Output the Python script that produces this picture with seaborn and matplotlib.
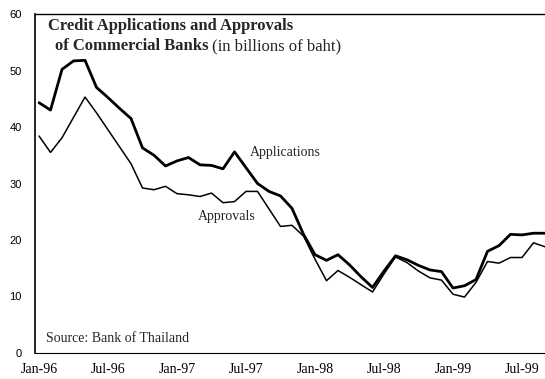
import matplotlib
matplotlib.use("Agg")
import matplotlib.pyplot as plt
import seaborn as sns
import pandas as pd

# Monthly series, Jan-1996 .. Sep-1999 (billions of baht)
months = pd.date_range("1996-01-01", "1999-09-01", freq="MS")
applications = [44.3, 43.0, 50.2, 51.7, 51.8, 47.0, 45.2, 43.3, 41.5, 36.3,
                35.0, 33.1, 34.0, 34.6, 33.3, 33.2, 32.6, 35.6, 32.8, 30.0,
                28.6, 27.8, 25.6, 21.0, 17.4, 16.4, 17.4, 15.6, 13.5, 11.6,
                14.5, 17.2, 16.5, 15.5, 14.7, 14.4, 11.5, 11.9, 13.0, 18.0,
                19.0, 21.0, 20.9, 21.2, 21.2]
approvals = [38.4, 35.5, 38.1, 41.7, 45.3, 42.5, 39.5, 36.5, 33.5, 29.2,
             28.9, 29.5, 28.2, 28.0, 27.7, 28.3, 26.6, 26.8, 28.6, 28.6,
             25.5, 22.4, 22.6, 20.7, 16.6, 12.8, 14.6, 13.4, 12.1, 10.8,
             14.0, 17.0, 16.0, 14.5, 13.3, 12.9, 10.4, 9.9, 12.5, 16.2,
             15.9, 16.9, 16.9, 19.5, 18.8]
tick_labels = ["Jan-96", "Jul-96", "Jan-97", "Jul-97", "Jan-98", "Jul-98",
               "Jan-99", "Jul-99"]
y_ticks = [0, 10, 20, 30, 40, 50, 60]

df = pd.DataFrame({"month": range(len(months)),
                   "Applications": applications,
                   "Approvals": approvals})

sns.set_style("white")
serif = ["Liberation Serif", "DejaVu Serif"]

W, H = 545, 379
fig = plt.figure(figsize=(W / 100, H / 100), dpi=100)
ax = fig.add_axes([35 / W, 1 - 353 / H, (545 - 35) / W, (353 - 14) / H])

sns.lineplot(data=df, x="month", y="Applications", ax=ax, color="black",
             linewidth=2.0)
sns.lineplot(data=df, x="month", y="Approvals", ax=ax, color="black",
             linewidth=1.1)

ax.set_xlim(-0.35, 44.0)
ax.set_ylim(0, 60)
ax.set_xlabel("")
ax.set_ylabel("")

ax.set_xticks(range(0, len(months), 6))
ax.set_xticklabels(tick_labels, fontfamily=serif, fontsize=10)
ax.set_yticks(y_ticks)
ax.set_yticklabels([str(v) for v in y_ticks],
                   fontfamily=["Liberation Sans", "DejaVu Sans"], fontsize=8)
ax.tick_params(axis="x", direction="inout", length=3, width=0.8, pad=6,
               colors="black")
ax.tick_params(axis="y", direction="inout", length=3, width=0.8, pad=8,
               colors="black")

for side in ["left", "bottom", "top"]:
    ax.spines[side].set_visible(True)
    ax.spines[side].set_color("black")
ax.spines["left"].set_linewidth(1.2)
ax.spines["bottom"].set_linewidth(0.8)
ax.spines["top"].set_linewidth(1.0)
ax.spines["right"].set_visible(False)

# Series labels and source note
ax.text(18.3, 35.5, "Applications", fontfamily=serif, fontsize=10,
        ha="left", va="center")
ax.text(13.8, 24.1, "Approvals", fontfamily=serif, fontsize=10,
        ha="left", va="center")
ax.text(0.6, 2.6, "Source: Bank of Thailand", fontfamily=serif, fontsize=10,
        ha="left", va="center")

# Title, two lines: bold heading, then bold + regular
fig.text(48 / W, 1 - 30 / H, "Credit Applications and Approvals",
         fontfamily=serif, fontsize=12, fontweight="bold", va="baseline")
t_bold = fig.text(55 / W, 1 - 50 / H, "of Commercial Banks",
                  fontfamily=serif, fontsize=12, fontweight="bold",
                  va="baseline")
renderer = fig.canvas.get_renderer()
bb = t_bold.get_window_extent(renderer=renderer)
fig.text(bb.x1 / fig.bbox.width + 4 / W, 1 - 50 / H, "(in billions of baht)",
         fontfamily=serif, fontsize=12, va="baseline")

fig.savefig("out.png", dpi=100, facecolor="white")
